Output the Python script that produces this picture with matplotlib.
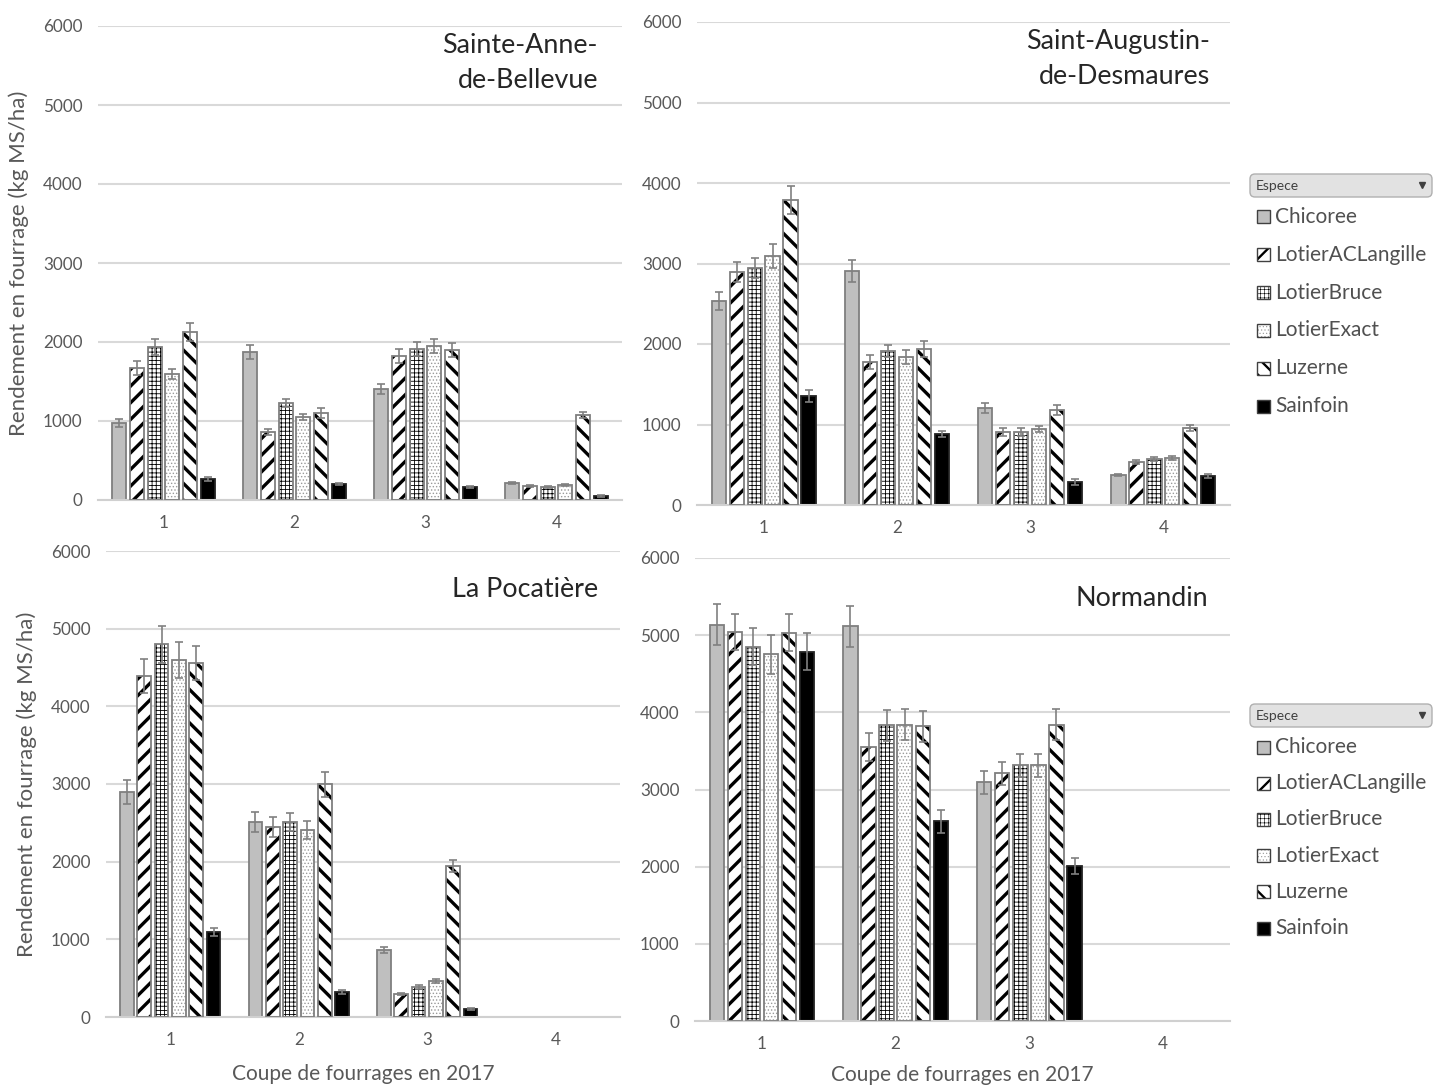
import numpy as np
import matplotlib.pyplot as plt
from matplotlib.patches import Rectangle, FancyBboxPatch

plt.rcParams['font.family'] = ['Lato', 'DejaVu Sans']

especes = ['Chicoree', 'LotierACLangille', 'LotierBruce', 'LotierExact', 'Luzerne', 'Sainfoin']
coupes = ['1', '2', '3', '4']
sites = ['Sainte-Anne-\nde-Bellevue', 'Saint-Augustin-\nde-Desmaures', 'La Pocatière', 'Normandin']

# rendement (kg MS/ha) : une ligne par espece, une colonne par coupe
anne = [[975, 1873, 1405, 215],
        [1670, 860, 1820, 177],
        [1937, 1228, 1910, 165],
        [1595, 1050, 1950, 190],
        [2127, 1100, 1900, 1076],
        [266, 200, 165, 50]]
anne_err = [[50, 90, 60, 15],
            [90, 40, 90, 10],
            [100, 50, 90, 15],
            [60, 40, 90, 10],
            [110, 60, 90, 40],
            [20, 15, 15, 8]]

augustin = [[2534, 2907, 1205, 373],
            [2894, 1776, 907, 534],
            [2944, 1913, 907, 571],
            [3093, 1838, 944, 584],
            [3789, 1938, 1180, 956],
            [1354, 882, 286, 360]]
augustin_err = [[110, 140, 60, 15],
                [130, 90, 50, 30],
                [130, 70, 50, 30],
                [150, 90, 40, 20],
                [170, 100, 60, 40],
                [70, 40, 40, 30]]

pocatiere = [[2896, 2510, 862, np.nan],
             [4389, 2445, 296, np.nan],
             [4800, 2510, 386, np.nan],
             [4595, 2407, 463, np.nan],
             [4556, 2999, 1943, np.nan],
             [1094, 322, 103, np.nan]]
pocatiere_err = [[150, 130, 40, 0],
                 [220, 130, 15, 0],
                 [240, 120, 20, 0],
                 [230, 120, 25, 0],
                 [220, 160, 80, 0],
                 [50, 30, 10, 0]]

normandin = [[5133, 5117, 3092, np.nan],
             [5043, 3549, 3212, np.nan],
             [4849, 3834, 3312, np.nan],
             [4750, 3838, 3312, np.nan],
             [5030, 3821, 3838, np.nan],
             [4784, 2590, 2008, np.nan]]
normandin_err = [[265, 265, 150, 0],
                 [230, 180, 150, 0],
                 [240, 200, 150, 0],
                 [250, 200, 150, 0],
                 [240, 200, 200, 0],
                 [240, 150, 100, 0]]

donnees = [anne, augustin, pocatiere, normandin]
erreurs = [anne_err, augustin_err, pocatiere_err, normandin_err]

# style de chaque espece : remplissage, motif, couleur du motif, epaisseur du motif
styles = [('#BFBFBF', None, None, 0),
          ('white', '//', 'black', 2.4),
          ('white', '++++', 'black', 0.6),
          ('white', '.....', '#9A9A9A', 0.6),
          ('white', '\\\\', 'black', 2.4),
          ('black', None, None, 0)]
bordure = '#7F7F7F'

W, H = 1434, 1086
fig = plt.figure(figsize=(W / 100, H / 100), dpi=100)


def px_axes(x0, x1, ytop, ybot):
    return fig.add_axes([x0 / W, 1 - ybot / H, (x1 - x0) / W, (ybot - ytop) / H])


axes = [px_axes(98, 622, 26, 500),
        px_axes(697, 1230, 22, 505),
        px_axes(106, 620, 551, 1017),
        px_axes(695, 1230, 558, 1021)]

# position des titres (fraction des axes)
titre_pos = [(0.954, 0.985), (0.962, 0.985), (0.957, 0.945), (0.959, 0.94)]

x = np.arange(len(coupes))
pas = 0.135
larg = 0.107

for k, ax in enumerate(axes):
    vals = np.array(donnees[k], dtype=float)
    errs = np.array(erreurs[k], dtype=float)
    for i, esp in enumerate(especes):
        face, hatch, hcol, hlw = styles[i]
        pos = x + (i - 2.5) * pas
        ok = ~np.isnan(vals[i])
        if hatch:
            with plt.rc_context({'hatch.linewidth': hlw}):
                bars = ax.bar(pos[ok], vals[i][ok], larg, color=face,
                              edgecolor=hcol, linewidth=0, hatch=hatch, zorder=2)
            for b in bars:
                if hasattr(b, 'set_hatch_linewidth'):
                    b.set_hatch_linewidth(hlw)
            ax.bar(pos[ok], vals[i][ok], larg, fill=False,
                   edgecolor=bordure, linewidth=1.3, zorder=3)
        else:
            ax.bar(pos[ok], vals[i][ok], larg, color=face,
                   edgecolor=bordure if face != 'black' else '#222222',
                   linewidth=1.3, zorder=2)
        ax.errorbar(pos[ok], vals[i][ok], yerr=errs[i][ok], fmt='none',
                    ecolor='#808080', elinewidth=1.2, capsize=3, capthick=1.2, zorder=4)

    ax.set_xlim(-0.5, 3.5)
    ax.set_ylim(0, 6000)
    ax.set_yticks(range(0, 6001, 1000))
    ax.set_xticks(x)
    ax.set_xticklabels(coupes)
    ax.grid(axis='y', color='#D9D9D9', linewidth=1.5, zorder=0)
    ax.set_axisbelow(True)
    for s in ['top', 'right', 'left']:
        ax.spines[s].set_visible(False)
    ax.spines['bottom'].set_color('#D0D0D0')
    ax.spines['bottom'].set_linewidth(1.5)
    ax.tick_params(length=0, labelsize=12.3, colors='#595959', pad=11)

    tx, ty = titre_pos[k]
    ax.text(tx, ty, sites[k], transform=ax.transAxes, ha='right', va='top',
            fontsize=19.4, color='#262626', linespacing=1.5)

for ax in [axes[0], axes[2]]:
    ax.set_ylabel('Rendement en fourrage (kg MS/ha)', fontsize=16, color='#595959', labelpad=10)
axes[2].set_xlabel('Coupe de fourrages en 2017', fontsize=15, color='#595959', labelpad=11)
axes[3].set_xlabel('Coupe de fourrages en 2017', fontsize=15, color='#595959', labelpad=9)


# legendes (style filtre Excel)
def legende(ytop, pas_y):
    lx = fig.add_axes([1240 / W, 1 - (ytop + 260) / H, 194 / W, 260 / H])
    lx.set_xlim(1240, 1434)
    lx.set_ylim(ytop + 260, ytop)
    lx.axis('off')
    lx.add_patch(FancyBboxPatch((1250, ytop + 4), 182, 23,
                                boxstyle='round,pad=0,rounding_size=5',
                                facecolor='#E2E2E2', edgecolor='#B0B0B0', linewidth=1))
    lx.text(1256, ytop + 16, 'Espece', fontsize=10, color='#404040', va='center')
    lx.plot([1422], [ytop + 15], marker='v', color='#404040', markersize=4.5)
    for i, esp in enumerate(especes):
        face, hatch, hcol, hlw = styles[i]
        yc = ytop + 47 + i * pas_y
        if hatch:
            with plt.rc_context({'hatch.linewidth': hlw * 0.7}):
                r = Rectangle((1257, yc - 6.5), 13, 13, facecolor=face, edgecolor=hcol,
                              linewidth=0, hatch=hatch)
            if hasattr(r, 'set_hatch_linewidth'):
                r.set_hatch_linewidth(hlw * 0.7)
            lx.add_patch(r)
            lx.add_patch(Rectangle((1257, yc - 6.5), 13, 13, fill=False,
                                   edgecolor='#404040', linewidth=1))
        else:
            lx.add_patch(Rectangle((1257, yc - 6.5), 13, 13, facecolor=face,
                                   edgecolor='#404040', linewidth=1))
        lx.text(1275, yc, esp, fontsize=15, color='#505050', va='center')


legende(170, 37.8)
legende(700, 36.2)

fig.savefig('out.png', dpi=100)
